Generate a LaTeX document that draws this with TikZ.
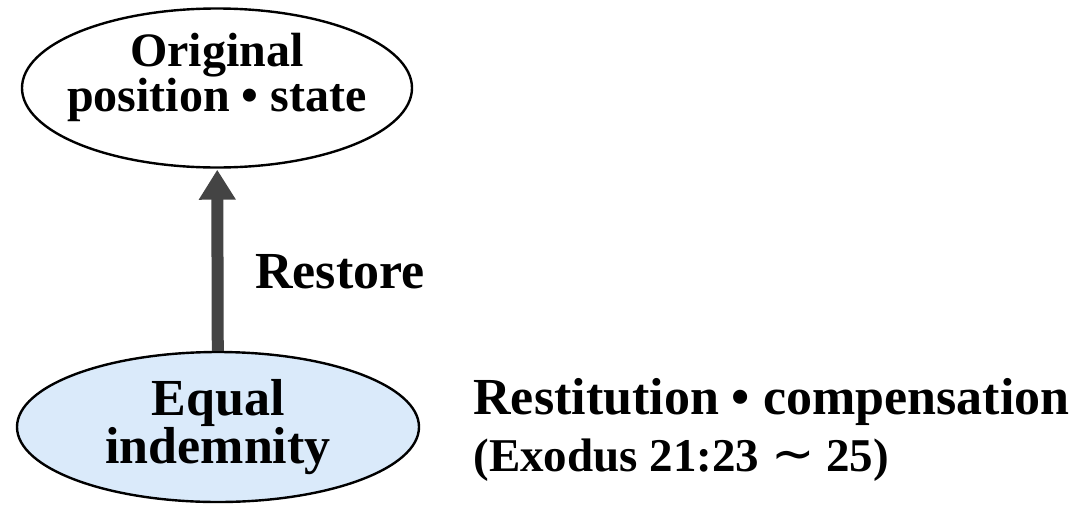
\documentclass[tikz,border=0pt]{standalone}
\usepackage{fontspec}
\setmainfont{Liberation Serif}
\newfontfamily\symfont{DejaVu Sans}
\usetikzlibrary{arrows.meta,positioning,shapes.geometric}
\definecolor{paleblue}{RGB}{218,234,250}
\definecolor{arrowgray}{RGB}{68,68,68}

\begin{document}
\begin{tikzpicture}[x=1pt,y=-1pt,node distance=40pt and 53pt,
  every node/.style={font=\fontsize{48}{45}\selectfont\bfseries},
  oval/.style={draw,ellipse,line width=2.4pt,inner sep=-20pt,align=center},
  label text/.style={inner sep=0pt,align=left,font=\fontsize{52}{57}\selectfont\bfseries}]
\useasboundingbox (0,0) rectangle (1078,509);
\node[oval,text depth=32pt,minimum width=390pt,minimum height=159pt] (orig) at (217,88) {Original\\position • state};
\node[oval,fill=paleblue,font=\fontsize{52}{48}\selectfont\bfseries,minimum width=402pt,minimum height=150pt] (equal) at (218,427) {Equal\\indemnity};
\draw[arrowgray,line width=12pt,-{Triangle[length=30pt,width=35pt]},shorten >=1pt] (equal) -- (orig);
\node[label text,font=\fontsize{52}{52}\selectfont\bfseries,anchor=base west] (restore) at (255,288) {Restore};
\node[label text,right=of equal,yshift=-3pt] (restit) {Restitution • compensation\\{\fontsize{47}{57}\selectfont(Exodus 21:23 {\symfont\mdseries\fontsize{52}{52}\selectfont ∼} 25)}};
\end{tikzpicture}
\end{document}
